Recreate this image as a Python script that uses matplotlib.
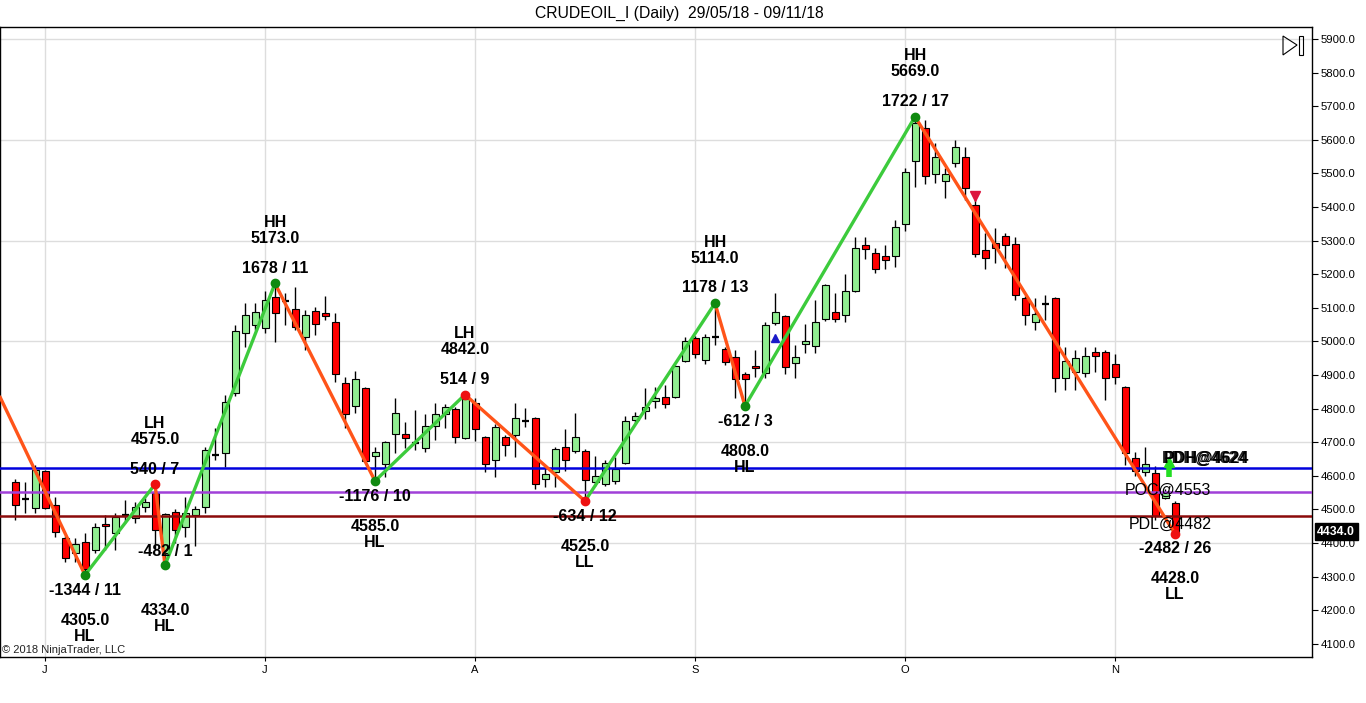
import numpy as np
import matplotlib.pyplot as plt
from matplotlib.patches import Rectangle, Polygon
from matplotlib.transforms import blended_transform_factory

plt.rcParams['font.family'] = ['Liberation Sans', 'DejaVu Sans']

# daily OHLC, 29/05/18 .. 09/11/18
opens = [4583, 4532, 4505, 4615, 4512, 4415, 4371, 4404, 4380, 4457,
         4430, 4484, 4475, 4508, 4550, 4371, 4493, 4448, 4484, 4508,
         4662, 4669, 4847, 5025, 5049, 5040, 5133, 5121, 5097, 5014,
         5091, 5085, 5058, 4877, 4808, 4862, 4660, 4635, 4725, 4725,
         4698, 4683, 4749, 4785, 4800, 4713, 4818, 4716, 4648, 4716,
         4722, 4764, 4773, 4591, 4612, 4686, 4674, 4674, 4582, 4577,
         4585, 4639, 4765, 4793, 4823, 4835, 4835, 4942, 5011, 4945,
         5014, 4978, 4955, 4904, 4927, 4907, 5055, 5076, 4936, 4993,
         4987, 5067, 5088, 5079, 5151, 5288, 5264, 5255, 5255, 5350,
         5537, 5636, 5499, 5478, 5532, 5549, 5407, 5273, 5293, 5314,
         5290, 5130, 5058, 5112, 5130, 4892, 4910, 4907, 4969, 4969,
         4933, 4865, 4654, 4612, 4609, 4535, 4520]
highs = [4590, 4583, 4632, 4618, 4537, 4420, 4415, 4430, 4460, 4484,
         4490, 4528, 4522, 4535, 4575, 4490, 4500, 4537, 4510, 4686,
         4743, 4842, 5049, 5115, 5115, 5150, 5173, 5145, 5163, 5094,
         5103, 5136, 5085, 4895, 4913, 4865, 4686, 4705, 4832, 4760,
         4796, 4785, 4817, 4815, 4806, 4842, 4833, 4720, 4755, 4722,
         4818, 4803, 4776, 4627, 4685, 4740, 4788, 4680, 4660, 4648,
         4657, 4778, 4790, 4862, 4865, 4871, 4930, 5014, 5015, 5023,
         5114, 4985, 4975, 4910, 4975, 5058, 5145, 5080, 4990, 5052,
         5124, 5170, 5145, 5201, 5311, 5311, 5279, 5288, 5362, 5517,
         5669, 5660, 5591, 5517, 5600, 5579, 5424, 5323, 5338, 5323,
         5311, 5135, 5130, 5139, 5133, 4984, 4975, 4984, 4984, 4975,
         4963, 4868, 4671, 4686, 4630, 4560, 4525]
lows = [4469, 4490, 4490, 4500, 4418, 4344, 4344, 4305, 4370, 4380,
        4380, 4460, 4460, 4493, 4380, 4334, 4400, 4418, 4390, 4490,
        4648, 4627, 4838, 4984, 5034, 5025, 4999, 5049, 5034, 4975,
        5020, 5064, 4880, 4743, 4788, 4640, 4585, 4597, 4668, 4683,
        4677, 4670, 4707, 4743, 4698, 4710, 4705, 4612, 4597, 4660,
        4657, 4746, 4562, 4567, 4567, 4615, 4668, 4525, 4570, 4570,
        4577, 4635, 4755, 4770, 4803, 4803, 4832, 4940, 4951, 4933,
        4990, 4930, 4832, 4808, 4895, 4892, 5050, 4904, 4892, 4966,
        4966, 5060, 5058, 5058, 5148, 5246, 5204, 5216, 5222, 5329,
        5460, 5469, 5472, 5427, 5520, 5421, 5252, 5216, 5234, 5219,
        5124, 5049, 5035, 5064, 4850, 4856, 4856, 4895, 4910, 4826,
        4874, 4633, 4600, 4600, 4470, 4530, 4428]
closes = [4512, 4532, 4618, 4505, 4433, 4356, 4398, 4323, 4448, 4451,
          4478, 4484, 4508, 4522, 4440, 4487, 4440, 4490, 4502, 4677,
          4662, 4820, 5031, 5079, 5088, 5124, 5085, 5121, 5043, 5079,
          5052, 5076, 4904, 4785, 4889, 4645, 4671, 4701, 4788, 4713,
          4698, 4749, 4785, 4806, 4716, 4830, 4740, 4635, 4746, 4692,
          4773, 4764, 4577, 4606, 4680, 4648, 4716, 4588, 4600, 4639,
          4620, 4764, 4779, 4806, 4832, 4814, 4927, 5002, 4963, 5014,
          5014, 4940, 4889, 4889, 4920, 5049, 5088, 4924, 4954, 5000,
          5058, 5168, 5067, 5151, 5279, 5276, 5216, 5243, 5341, 5505,
          5651, 5493, 5549, 5499, 5579, 5457, 5261, 5249, 5279, 5288,
          5139, 5079, 5082, 5112, 4892, 4942, 4951, 4957, 4957, 4892,
          4895, 4669, 4615, 4636, 4482, 4550, 4434]

month_idx = [3, 25, 46, 68, 89, 110]
month_lbl = ["J", "J", "A", "S", "O", "N"]

# zigzag swing points (first one is where the line enters the chart)
piv_idx = [-1.5, 7, 14, 15, 26, 36, 45, 57, 70, 73, 90, 116]
piv_px = [4835, 4305, 4575, 4334, 5173, 4585, 4842, 4525, 5114, 4808, 5669, 4428]
piv_type = ["", "HL", "LH", "HL", "HH", "HL", "LH", "LL", "HH", "HL", "HH", "LL"]
piv_count = ["", "-1344 / 11", "540 / 7", "-482 / 1", "1678 / 11", "-1176 / 10",
             "514 / 9", "-634 / 12", "1178 / 13", "-612 / 3", "1722 / 17", "-2482 / 26"]

lvl_name = ["PDH", "POC", "PDL"]
lvl_val = [4624, 4553, 4482]
lvl_col = ["#0000DD", "#A040D8", "#8B0A0A"]

last_price = 4434.0

up_col = "#90EE90"
dn_col = "#FF0000"
green_line = "#3CCB3C"
orange_line = "#FF5419"

fig = plt.figure(figsize=(13.66, 7.03), dpi=100)
ax = fig.add_axes([0, 1 - 657 / 703, 1312 / 1366, 630 / 703])
ax.set_xlim(-1.5, 129.7)
ax.set_ylim(4061, 5936)

# grid
for g in range(4400, 6000, 300):
    ax.axhline(g, color="#DDDDDD", lw=1, zorder=0)
for m in month_idx:
    ax.axvline(m, color="#DDDDDD", lw=1, zorder=0)

# candles
w = 0.7
for i in range(len(opens)):
    o, h, l, c = opens[i], highs[i], lows[i], closes[i]
    ax.vlines(i, l, h, color="black", lw=1, zorder=2)
    if o == c:
        ax.hlines(c, i - w / 2, i + w / 2, color="black", lw=1.6, zorder=2)
    else:
        col = up_col if c > o else dn_col
        ax.add_patch(Rectangle((i - w / 2, min(o, c)), w, abs(c - o),
                               facecolor=col, edgecolor="black", lw=0.8, zorder=2))

# level lines
for name, v, col in zip(lvl_name, lvl_val, lvl_col):
    ax.axhline(v, color=col, lw=1.8, zorder=3)

# zigzag
for k in range(1, len(piv_idx)):
    col = green_line if piv_px[k] > piv_px[k - 1] else orange_line
    ax.plot([piv_idx[k - 1], piv_idx[k]], [piv_px[k - 1], piv_px[k]],
            color=col, lw=2.4, zorder=4, solid_capstyle="round")

for k in range(1, len(piv_idx)):
    t = piv_type[k]
    dot = "#108A10" if t in ("HH", "HL") else "#EE1111"
    ax.plot(piv_idx[k], piv_px[k], "o", ms=6, color=dot, zorder=5)
    is_high = t in ("HH", "LH")
    s = 1 if is_high else -1
    cnt_off = 11 * s
    if k == 3:
        cnt_off = 10  # this one sits above its swing low
    kw = dict(xycoords="data", textcoords="offset points", ha="center", va="center",
              fontsize=11.5, fontweight="bold", zorder=6)
    ax.annotate(piv_count[k], (piv_idx[k], piv_px[k]), xytext=(0, cnt_off), **kw)
    ax.annotate("%.1f" % piv_px[k], (piv_idx[k], piv_px[k]), xytext=(0, 32.5 * s), **kw)
    ax.annotate(t, (piv_idx[k], piv_px[k]), xytext=(0, 44 * s), **kw)

# signal markers
ax.plot(76, 5011, "^", color="#1A1AC8", ms=6, zorder=5)
ax.plot(96, 5432, "v", color="#DC143C", ms=7, zorder=5)
ax.vlines(115.4, 4597, 4635, color="#22DD22", lw=4, zorder=6)
ax.plot(115.4, 4640, "^", color="#22DD22", ms=7, zorder=6)

# level labels
ax.text(119.0, 4651, "PDH@4624", ha="center", va="center", fontsize=11.5,
        fontweight="bold", color="#222222", zorder=6)
ax.text(119.15, 4651, "PDH@4624", ha="center", va="center", fontsize=11.5,
        fontweight="bold", color="black", zorder=6)
ax.text(115.3, 4556, "POC@4553", ha="center", va="center", fontsize=11.5, zorder=6)
ax.text(115.5, 4456, "PDL@4482", ha="center", va="center", fontsize=11.5, zorder=6)

# right price axis
ax.yaxis.tick_right()
ax.set_yticks(range(4100, 6000, 100))
ax.set_yticklabels(["%.1f" % v for v in range(4100, 6000, 100)])
ax.tick_params(axis="y", direction="out", length=4, labelsize=8.2, pad=2, colors="black")
ax.set_xticks(month_idx)
ax.set_xticklabels(month_lbl)
ax.tick_params(axis="x", direction="out", length=3, labelsize=8, pad=3)
for sp in ax.spines.values():
    sp.set_color("black")
    sp.set_linewidth(1)

tr = blended_transform_factory(ax.transAxes, ax.transData)
ax.text(1.004, last_price, "%.1f" % last_price, transform=tr, ha="left", va="center",
        fontsize=8.8, color="white", fontweight="bold",
        bbox=dict(boxstyle="square,pad=0.22", fc="black", ec="black"), zorder=7)

# scroll-to-end button
ax.add_patch(Polygon([[0.9779, 0.9857], [0.9886, 0.9714], [0.9779, 0.9556]],
                     closed=True, fill=False, ec="black", lw=0.8,
                     transform=ax.transAxes, zorder=7))
ax.add_patch(Rectangle((0.9901, 0.9556), 0.003, 0.0301, fill=False, ec="black",
                       lw=0.8, transform=ax.transAxes, zorder=7))

ax.text(0.0015, 0.011, "\u00a9 2018 NinjaTrader, LLC", transform=ax.transAxes,
        fontsize=8, ha="left", va="center", color="#222222")

fig.text(0.497, 1 - 13 / 703, "CRUDEOIL_I (Daily)  29/05/18 - 09/11/18",
         ha="center", va="center", fontsize=11.3)

fig.savefig("out.png", dpi=100)
